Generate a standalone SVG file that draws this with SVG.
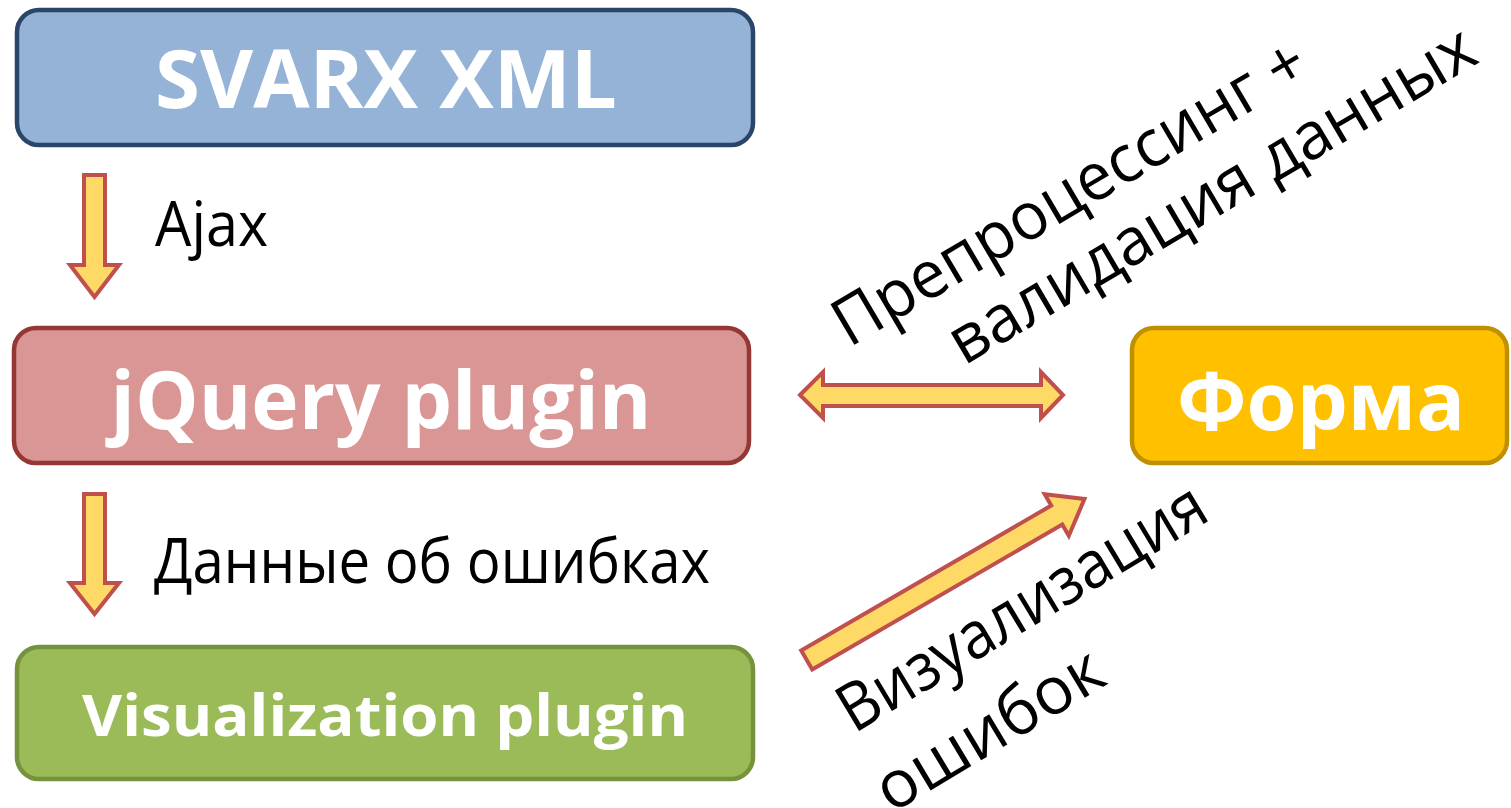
<svg xmlns="http://www.w3.org/2000/svg" width="1511" height="808" viewBox="0 0 1511 808">
  <style>
    .node-label { font-family: "Open Sans", "Noto Sans", sans-serif; font-weight: bold; fill: #ffffff; text-anchor: middle; }
    .label { font-family: "Open Sans", "Noto Sans", sans-serif; font-size: 62px; fill: #000000; }
    .tilt { font-family: "Open Sans", "Noto Sans", sans-serif; font-size: 66px; fill: #000000; }
    .arrow { fill: #FFD966; stroke: #C0504D; stroke-width: 4; stroke-linejoin: miter; }
  </style>
  <rect width="1511" height="808" fill="#ffffff"/>

  <!-- nodes -->
  <g id="svarx-xml">
    <rect x="17" y="10" width="736" height="135" rx="22" fill="#95B3D7" stroke="#2B4569" stroke-width="4.5"/>
    <text class="node-label" x="386" y="108" font-size="81" textLength="462" lengthAdjust="spacingAndGlyphs">SVARX XML</text>
  </g>
  <g id="jquery-plugin">
    <rect x="14" y="328" width="735" height="135" rx="22" fill="#D99694" stroke="#953735" stroke-width="4.5"/>
    <text class="node-label" x="381" y="429" font-size="80" textLength="541" lengthAdjust="spacingAndGlyphs">jQuery plugin</text>
  </g>
  <g id="visualization-plugin">
    <rect x="17" y="647" width="736" height="132" rx="22" fill="#9BBB59" stroke="#76923C" stroke-width="4.5"/>
    <text class="node-label" x="385" y="736" font-size="58" textLength="606" lengthAdjust="spacingAndGlyphs">Visualization plugin</text>
  </g>
  <g id="forma">
    <rect x="1132" y="328" width="375" height="135" rx="22" fill="#FFC000" stroke="#BF9000" stroke-width="4.5"/>
    <text class="node-label" x="1321" y="430" font-size="80" textLength="288" lengthAdjust="spacingAndGlyphs">Форма</text>
  </g>

  <!-- connectors -->
  <g id="connectors">
    <polygon class="arrow" points="84,175 105,175 105,265 119,265 94.5,297 70,265 84,265"/>
    <polygon class="arrow" points="84,494 105,494 105,583 119,583 94.5,614 70,583 84,583"/>
    <polygon class="arrow" points="800,395 823,372 823,385 1041,385 1041,372 1063,395 1041,418 1041,406 823,406 823,418"/>
    <polygon class="arrow" transform="translate(805,661) rotate(-30.1)" points="2,-11 291,-11 291,-24 323,0 291,24 291,11 2,11"/>
  </g>

  <!-- connector labels -->
  <g id="labels">
    <text class="label" x="155" y="246" textLength="113" lengthAdjust="spacingAndGlyphs">Ajax</text>
    <text class="label" x="154" y="583" textLength="556" lengthAdjust="spacingAndGlyphs">Данные об ошибках</text>
    <g transform="translate(849,348) rotate(-30.5)">
      <text class="tilt" x="0" y="0" textLength="538" lengthAdjust="spacingAndGlyphs">Препроцессинг +</text>
      <text class="tilt" x="90" y="74" textLength="600" lengthAdjust="spacingAndGlyphs">валидация данных</text>
    </g>
    <g transform="translate(854,734) rotate(-31)">
      <text class="tilt" x="0" y="0" textLength="418" lengthAdjust="spacingAndGlyphs">Визуализация</text>
      <text class="tilt" x="-9" y="88" textLength="254" lengthAdjust="spacingAndGlyphs">ошибок</text>
    </g>
  </g>
</svg>
